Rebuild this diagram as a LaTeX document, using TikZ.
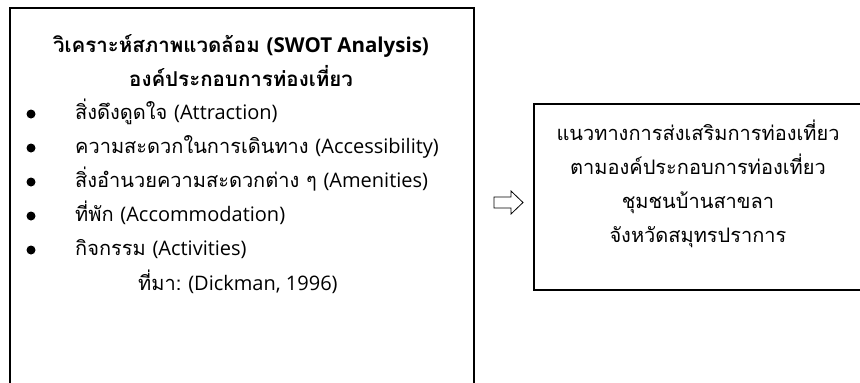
\documentclass[tikz,border=0pt]{standalone}
\usepackage{fontspec}
\setmainfont[Script=Thai]{Loma}
\newfontfamily\latinfont{Open Sans}
\newcommand{\en}[1]{{\latinfont #1}}

\begin{document}
\begin{tikzpicture}[x=1pt,y=-1pt,
  boxline/.style={draw,line width=1.5pt,anchor=north west,inner sep=0pt},
  txtline/.style={inner sep=0pt,text height=15pt,text depth=5pt,font=\fontsize{20}{24}\selectfont},
  headline/.style={txtline,font=\fontsize{20.5}{24}\selectfont\bfseries},
  bul/.style={circle,fill=black,inner sep=0pt,minimum size=9pt}]
  \useasboundingbox (0,0) rectangle (860,383);
  \clip (0,0) rectangle (860,383);
  % left box, open at the bottom of the page
  \node[boxline,minimum width=464pt,minimum height=420pt] at (9,7) (swotbox) {};
  \node[headline] at (241,47) (title1) {วิเคราะห์สภาพแวดล้อม \en{\bfseries (SWOT Analysis)}};
  \node[headline] at (241,81) (title2) {องค์ประกอบการท่องเที่ยว};
  \node[bul] at (31,114) (b1) {};
  \node[txtline,anchor=west] at (75,114) (item1) {สิ่งดึงดูดใจ \en{(Attraction)}};
  \node[bul] at (31,148) (b2) {};
  \node[txtline,anchor=west] at (75,148) (item2) {ความสะดวกในการเดินทาง \en{(Accessibility)}};
  \node[bul] at (31,182) (b3) {};
  \node[txtline,anchor=west] at (75,182) (item3) {สิ่งอำนวยความสะดวกต่าง ๆ \en{(Amenities)}};
  \node[bul] at (31,216) (b4) {};
  \node[txtline,anchor=west] at (75,216) (item4) {ที่พัก \en{(Accommodation)}};
  \node[bul] at (31,250) (b5) {};
  \node[txtline,anchor=west] at (75,250) (item5) {กิจกรรม \en{(Activities)}};
  \node[txtline,anchor=west] at (138,285) (source) {ที่มา:\en{ (Dickman, 1996)}};
  % outlined arrow between the boxes
  \draw[line width=0.8pt,line join=miter]
    (494,197) -- (511,197) -- (511,191) -- (523,202.5) -- (511,214) -- (511,208) -- (494,208) -- cycle;
  % right box, open at the right of the page
  \node[boxline,minimum width=340pt,minimum height=186pt] at (533,103) (guidebox) {};
  \node[txtline] at (698,135) (guide1) {แนวทางการส่งเสริมการท่องเที่ยว};
  \node[txtline] at (698,169) (guide2) {ตามองค์ประกอบการท่องเที่ยว};
  \node[txtline] at (698,203) (guide3) {ชุมชนบ้านสาขลา};
  \node[txtline] at (698,237) (guide4) {จังหวัดสมุทรปราการ};
\end{tikzpicture}
\end{document}
